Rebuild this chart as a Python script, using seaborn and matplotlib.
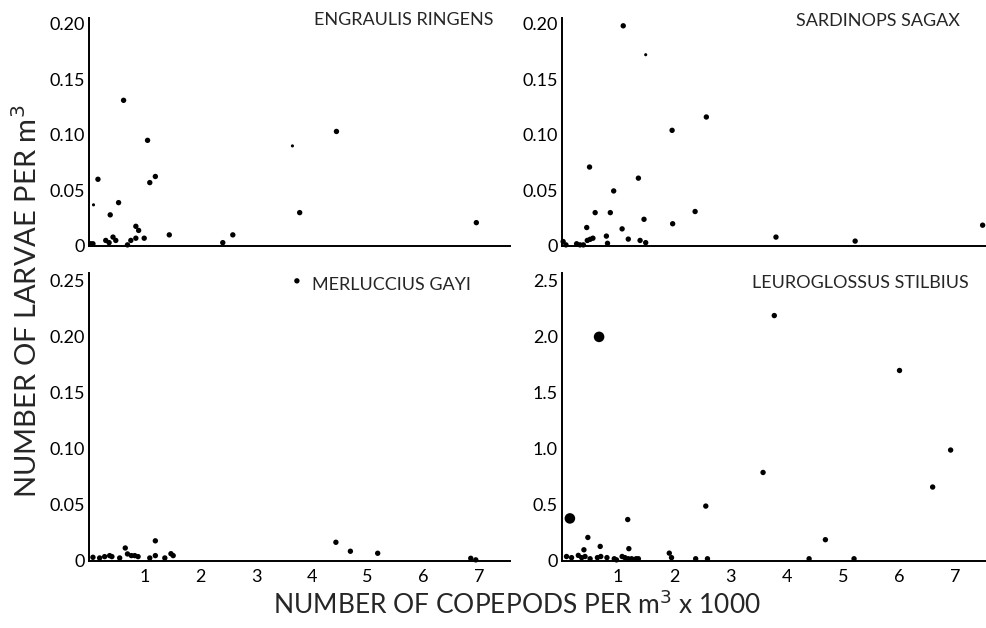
import matplotlib
matplotlib.use("Agg")
import matplotlib.pyplot as plt
import seaborn as sns
import pandas as pd

# ---------------- data ----------------
engraulis_x = [0.62, 1.05, 1.19, 1.09, 0.16, 0.08, 0.53, 0.38, 0.84, 0.89, 1.44, 2.40, 2.58,
               3.65, 3.78, 4.44, 6.95, 0.03, 0.07, 0.30, 0.36, 0.43, 0.48, 0.69, 0.75, 0.84, 0.99]
engraulis_y = [0.131, 0.095, 0.0625, 0.057, 0.060, 0.037, 0.039, 0.028, 0.0177, 0.014, 0.010, 0.003, 0.010,
               0.090, 0.030, 0.103, 0.021, 0.002, 0.002, 0.005, 0.003, 0.008, 0.005, 0.001, 0.005, 0.007, 0.007]
engraulis_m = ['n', 'n', 'n', 'n', 'n', 's', 'n', 'n', 'n', 'n', 'n', 'n', 'n',
               's', 'n', 'n', 'n', 'n', 'n', 'n', 'n', 'n', 'n', 'n', 'n', 'n', 'n']

sardinops_x = [1.09, 1.49, 2.57, 1.96, 0.49, 1.36, 0.92, 0.59, 0.86, 2.37, 1.46, 1.97, 0.44, 1.07, 0.79,
               1.18, 1.39, 1.49, 0.81, 3.81, 5.22, 7.49, 0.02, 0.07, 0.26, 0.32, 0.38, 0.45, 0.50, 0.55]
sardinops_y = [0.198, 0.172, 0.116, 0.104, 0.071, 0.061, 0.0495, 0.030, 0.030, 0.031, 0.024, 0.020, 0.0166,
               0.0154, 0.0089, 0.0062, 0.005, 0.003, 0.0024, 0.008, 0.0044, 0.0187, 0.004, 0.001, 0.002,
               0.001, 0.001, 0.005, 0.006, 0.007]
sardinops_m = ['n', 's'] + ['n'] * 28

merluccius_x = [3.73, 1.19, 0.65, 1.19, 1.47, 1.51, 4.43, 4.69, 5.18, 6.85, 6.94, 0.07, 0.19, 0.28,
                0.37, 0.41, 0.55, 0.69, 0.76, 0.82, 0.88, 1.09, 1.36]
merluccius_y = [0.25, 0.018, 0.0116, 0.0048, 0.0065, 0.0048, 0.0167, 0.0087, 0.0069, 0.0024, 0.001,
                0.0033, 0.0027, 0.0039, 0.0048, 0.0039, 0.0027, 0.0063, 0.0048, 0.0048, 0.0039, 0.0027, 0.0027]
merluccius_m = ['n'] * 23

leuro_x = [0.66, 0.14, 3.78, 6.01, 6.92, 6.60, 3.58, 2.56, 1.17, 0.46, 4.69, 0.39, 0.68, 1.19, 1.91, 1.07,
           0.08, 0.17, 0.29, 0.35, 0.41, 0.50, 0.63, 0.69, 0.80, 0.93, 0.97, 1.12, 1.18, 1.24, 1.32,
           1.36, 1.95, 2.38, 2.59, 4.40, 5.20]
leuro_y = [2.0, 0.38, 2.19, 1.70, 0.99, 0.66, 0.79, 0.49, 0.37, 0.21, 0.19, 0.10, 0.13, 0.11, 0.07, 0.04,
           0.04, 0.03, 0.05, 0.03, 0.04, 0.02, 0.03, 0.04, 0.03, 0.02, 0.01, 0.03, 0.02, 0.02, 0.02,
           0.02, 0.03, 0.02, 0.02, 0.02, 0.02]
leuro_m = ['b', 'b'] + ['n'] * 35

panel_titles = ["ENGRAULIS RINGENS", "SARDINOPS SAGAX", "MERLUCCIUS GAYI", "LEUROGLOSSUS STILBIUS"]
x_ticks = [1, 2, 3, 4, 5, 6, 7]
small_yticks = [0, 0.05, 0.10, 0.15, 0.20]
small_ylabels = ["0", "0.05", "0.10", "0.15", "0.20"]
merl_yticks = [0, 0.05, 0.10, 0.15, 0.20, 0.25]
merl_ylabels = ["0", "0.05", "0.10", "0.15", "0.20", "0.25"]
leuro_yticks = [0, 0.5, 1.0, 1.5, 2.0, 2.5]
leuro_ylabels = ["0", "0.5", "1.0", "1.5", "2.0", "2.5"]

# ---------------- style ----------------
sns.set_style("white")
plt.rcParams['font.family'] = ['Lato', 'DejaVu Sans']

fig = plt.figure(figsize=(9.86, 6.28), dpi=100)
axes = [
    fig.add_axes([0.0903, 0.6083, 0.4267, 0.3630]),
    fig.add_axes([0.5700, 0.6083, 0.4300, 0.3630]),
    fig.add_axes([0.0903, 0.1067, 0.4267, 0.4586]),
    fig.add_axes([0.5700, 0.1067, 0.4300, 0.4586]),
]

panels = [
    (engraulis_x, engraulis_y, engraulis_m, (0, 0.205), small_yticks, small_ylabels, False),
    (sardinops_x, sardinops_y, sardinops_m, (0, 0.205), small_yticks, small_ylabels, False),
    (merluccius_x, merluccius_y, merluccius_m, (0, 0.257), merl_yticks, merl_ylabels, True),
    (leuro_x, leuro_y, leuro_m, (0, 2.57), leuro_yticks, leuro_ylabels, True),
]

size_map = {'s': 5, 'n': 15, 'b': 58}

for ax, (xs, ys, ms, ylim, yt, yl, xlab) in zip(axes, panels):
    df = pd.DataFrame({'x': xs, 'y': ys, 'm': ms})
    sns.scatterplot(data=df, x='x', y='y', size='m', sizes=size_map, color='black',
                    linewidth=0, legend=False, ax=ax, clip_on=False, zorder=3)
    ax.set_xlim(0, 7.55)
    ax.set_ylim(*ylim)
    ax.set_xticks(x_ticks)
    ax.set_yticks(yt)
    ax.set_yticklabels(yl)
    if xlab:
        ax.set_xticklabels([str(t) for t in x_ticks])
    else:
        ax.set_xticklabels([])
    ax.set_xlabel("")
    ax.set_ylabel("")
    for s in ['top', 'right']:
        ax.spines[s].set_visible(False)
    for s in ['left', 'bottom']:
        ax.spines[s].set_color('black')
        ax.spines[s].set_linewidth(1.4)
    ax.tick_params(axis='both', direction='in', length=3, width=1, colors='black',
                   labelsize=13, pad=3)
    ax.tick_params(axis='x', pad=6)
    ax.patch.set_alpha(0)

fig.text(0.500, 0.968, panel_titles[0], ha='right', va='center', fontsize=13)
fig.text(0.974, 0.966, panel_titles[1], ha='right', va='center', fontsize=13)
fig.text(0.316, 0.546, panel_titles[2], ha='left', va='center', fontsize=13)
fig.text(0.763, 0.549, panel_titles[3], ha='left', va='center', fontsize=13)

fig.text(0.027, 0.521, "NUMBER OF LARVAE PER m$^3$", rotation=90, ha='center', va='center', fontsize=21)
fig.text(0.524, 0.037, "NUMBER OF COPEPODS PER m$^3$ x 1000", ha='center', va='center', fontsize=19)

fig.savefig("out.png", dpi=100)
